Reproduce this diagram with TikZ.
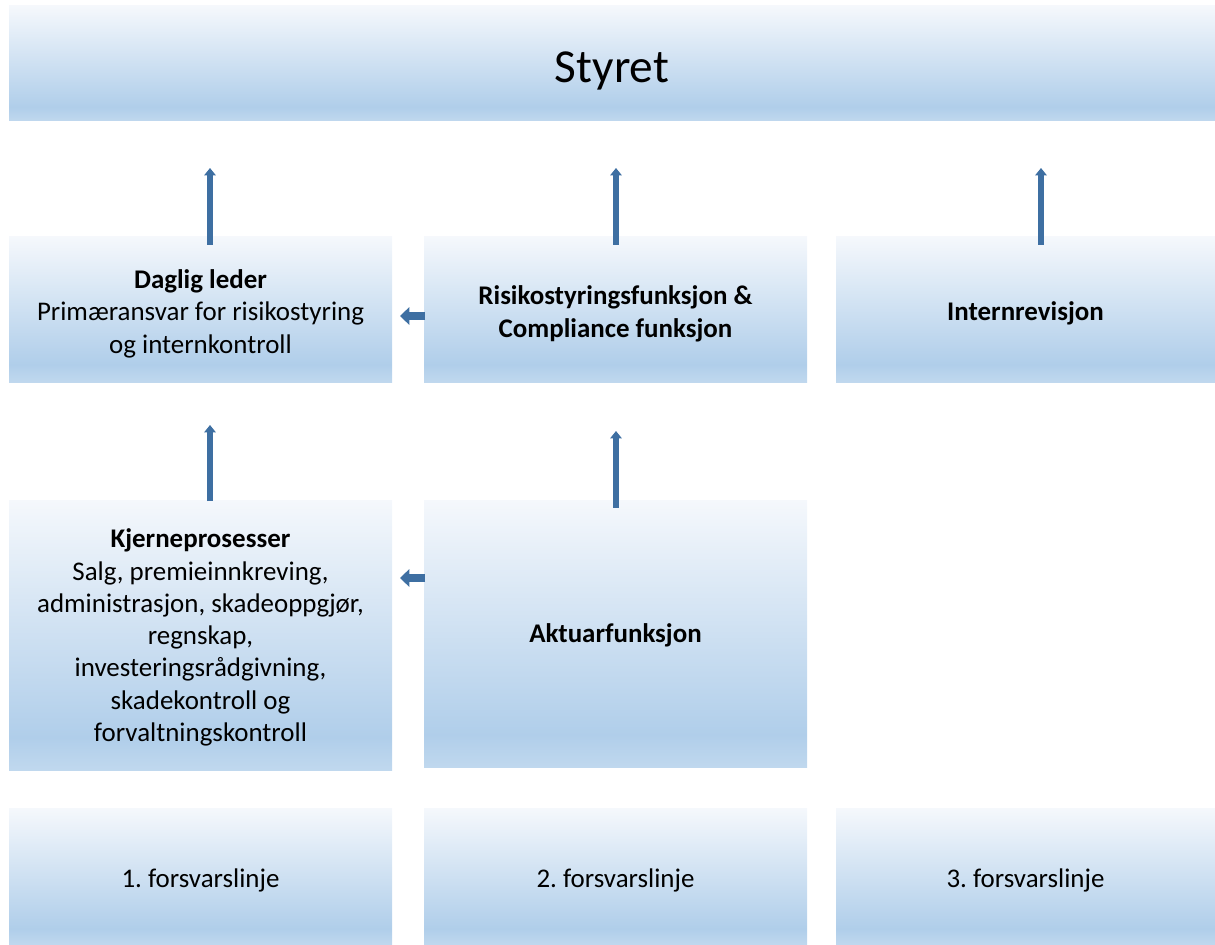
\documentclass[tikz,border=0pt]{standalone}
\usepackage{fontspec}
\setmainfont{Carlito}
\frenchspacing
\usetikzlibrary{arrows.meta,calc}
\definecolor{boxtop}{RGB}{245,248,252}
\definecolor{boxmid}{RGB}{176,206,234}
\definecolor{boxbot}{RGB}{192,216,238}
\definecolor{arrowc}{RGB}{62,111,162}
\newcommand{\fstrut}{\rule{0pt}{20.5pt}}
\pgfdeclareverticalshading{boxshade}{100bp}{color(0bp)=(boxbot); color(25bp)=(boxbot); color(31bp)=(boxmid); color(75bp)=(boxtop); color(100bp)=(boxtop)}
\tikzset{
  box/.style 2 args={rectangle, inner sep=0pt, shading=boxshade,
    minimum width=#1*0.75pt, minimum height=#2*0.75pt, align=center,
    font=\fontsize{20.2}{24.2}\selectfont},
  varrow/.style={draw=arrowc, line width=4.5pt, -{Triangle[width=8.5pt,length=5.5pt]}},
  harrow/.style={draw=arrowc, line width=5.5pt, -{Triangle[width=13pt,length=7pt]}},
}
\begin{document}
\begin{tikzpicture}[x=0.75pt,y=-0.75pt]
\useasboundingbox (0,0) rectangle (1215,945);
\node[box={1206}{115}, font=\fontsize{35.5}{42}\selectfont] (styret) at (612,63.5) {\rule{0pt}{34pt}Styret};
\node[box={383}{145}] (dl) at (200.5,309.5) {\fstrut\textbf{Daglig leder}\\Primæransvar for risikostyring\\og internkontroll};
\node[box={383}{145}] (risk) at (615.5,309.5) {\fstrut\textbf{Risikostyringsfunksjon \&}\\\textbf{Compliance funksjon}};
\node[box={379}{145}] (irev) at (1025.5,309.5) {\fstrut\textbf{Internrevisjon}};
\node[box={383}{270}] (kjerne) at (200.5,635) {\rule{0pt}{18pt}\textbf{Kjerneprosesser}\\Salg, premieinnkreving,\\administrasjon, skadeoppgjør,\\regnskap,\\investeringsrådgivning,\\skadekontroll og\\forvaltningskontroll};
\node[box={383}{267}] (akt) at (615.5,633.5) {\rule{0pt}{17pt}\textbf{Aktuarfunksjon}};
\node[box={383}{137}] (l1) at (200.5,876.5) {\fstrut 1. forsvarslinje};
\node[box={383}{137}] (l2) at (615.5,876.5) {\fstrut 2. forsvarslinje};
\node[box={379}{137}] (l3) at (1025.5,876.5) {\fstrut 3. forsvarslinje};
% arrow end points
\coordinate (e1) at (210,168);
\coordinate (e2) at (616,168);
\coordinate (e3) at (1041,168);
\coordinate (e4) at (210,425);
\coordinate (e5) at (616,431);
\coordinate (h1) at (400,316);
\coordinate (h2) at (400,578);
\draw[varrow] ([yshift=-6pt]e1 |- dl.north) -- (e1);
\draw[varrow] ([yshift=-6pt]e2 |- risk.north) -- (e2);
\draw[varrow] ([yshift=-6pt]e3 |- irev.north) -- (e3);
\draw[varrow] ([yshift=-1pt]e4 |- kjerne.north) -- (e4);
\draw[varrow] ([yshift=-6pt]e5 |- akt.north) -- (e5);
\draw[harrow] ([xshift=1pt]h1 -| risk.west) -- (h1);
\draw[harrow] ([xshift=1pt]h2 -| akt.west) -- (h2);
\end{tikzpicture}
\end{document}
